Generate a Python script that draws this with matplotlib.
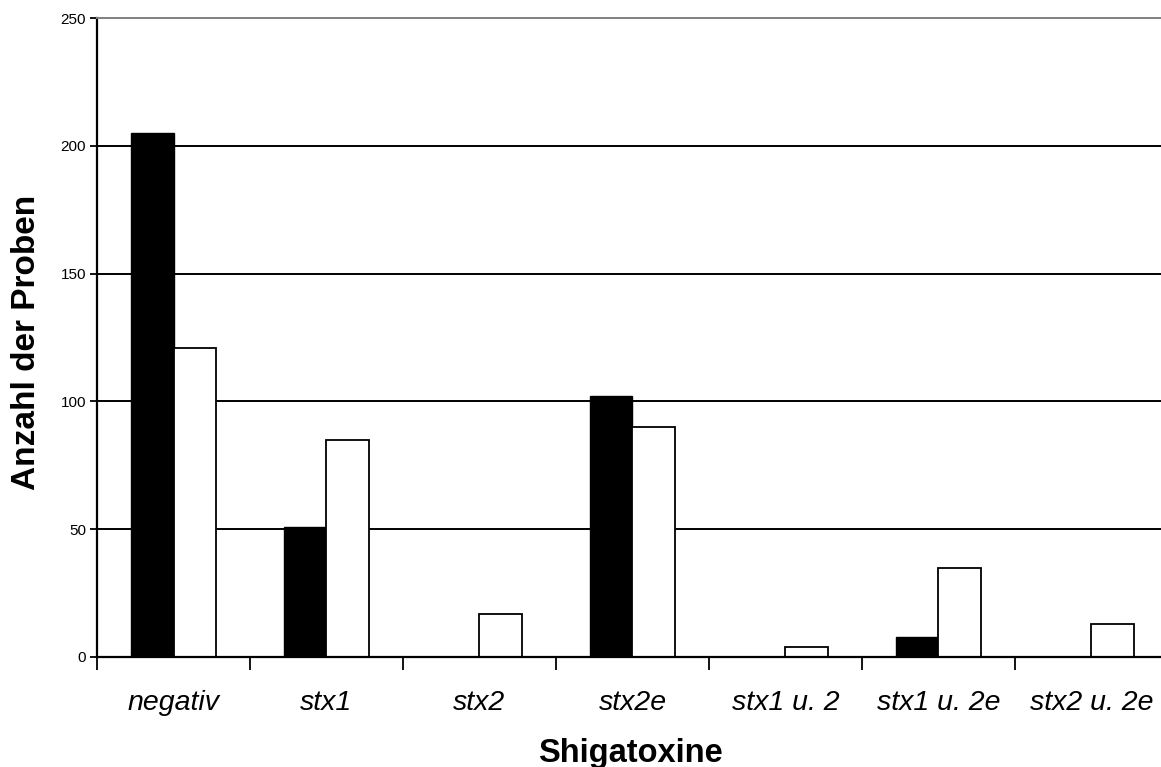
import matplotlib
matplotlib.use('Agg')
import matplotlib.pyplot as plt
import numpy as np

categories = ['negativ', 'stx1', 'stx2', 'stx2e', 'stx1 u. 2', 'stx1 u. 2e', 'stx2 u. 2e']
series_black = [205, 51, 0, 102, 0, 8, 0]
series_white = [121, 85, 17, 90, 4, 35, 13]
y_ticks = [0, 50, 100, 150, 200, 250]

plt.rcParams['font.family'] = ['Liberation Sans', 'DejaVu Sans']

fig = plt.figure(figsize=(11.61, 7.67), dpi=100)
ax = fig.add_axes([97 / 1161, 110 / 767, 1071 / 1161, 639 / 767])

centers = np.arange(len(categories)) + 0.5
width = 0.28

# gridlines behind bars
for v in y_ticks[1:-1]:
    ax.axhline(v, color='black', linewidth=1.4, zorder=1)

ax.bar(centers - width / 2, series_black, width, color='black', edgecolor='black',
       linewidth=1, zorder=2)
ax.bar(centers + width / 2, series_white, width, color='white', edgecolor='black',
       linewidth=1.3, zorder=2)

ax.set_xlim(0, len(categories))
ax.set_ylim(0, 250)

ax.set_yticks(y_ticks)
ax.set_yticklabels([str(v) for v in y_ticks], fontsize=11)
ax.tick_params(axis='y', direction='out', length=5, width=1.3, pad=3)

ax.set_xticks(np.arange(len(categories) + 1))
ax.set_xticklabels([])
ax.tick_params(axis='x', which='major', direction='out', length=9, width=1.3)
ax.set_xticks(centers, minor=True)
ax.set_xticklabels(categories, minor=True, fontsize=20.5, style='italic')
ax.tick_params(axis='x', which='minor', length=0, pad=24)

for s in ['left', 'bottom']:
    ax.spines[s].set_linewidth(1.6)
    ax.spines[s].set_color('black')
ax.spines['right'].set_visible(False)
ax.spines['top'].set_color('#808080')
ax.spines['top'].set_linewidth(1.4)

fig.text(27 / 1161, 1 - 342 / 767, 'Anzahl der Proben', rotation=90,
         ha='center', va='center', fontsize=24, fontweight='bold')
fig.text(630 / 1161, 5 / 767, 'Shigatoxine', ha='center', va='baseline',
         fontsize=23.5, fontweight='bold')

fig.savefig('out.png', dpi=100)
plt.close(fig)
